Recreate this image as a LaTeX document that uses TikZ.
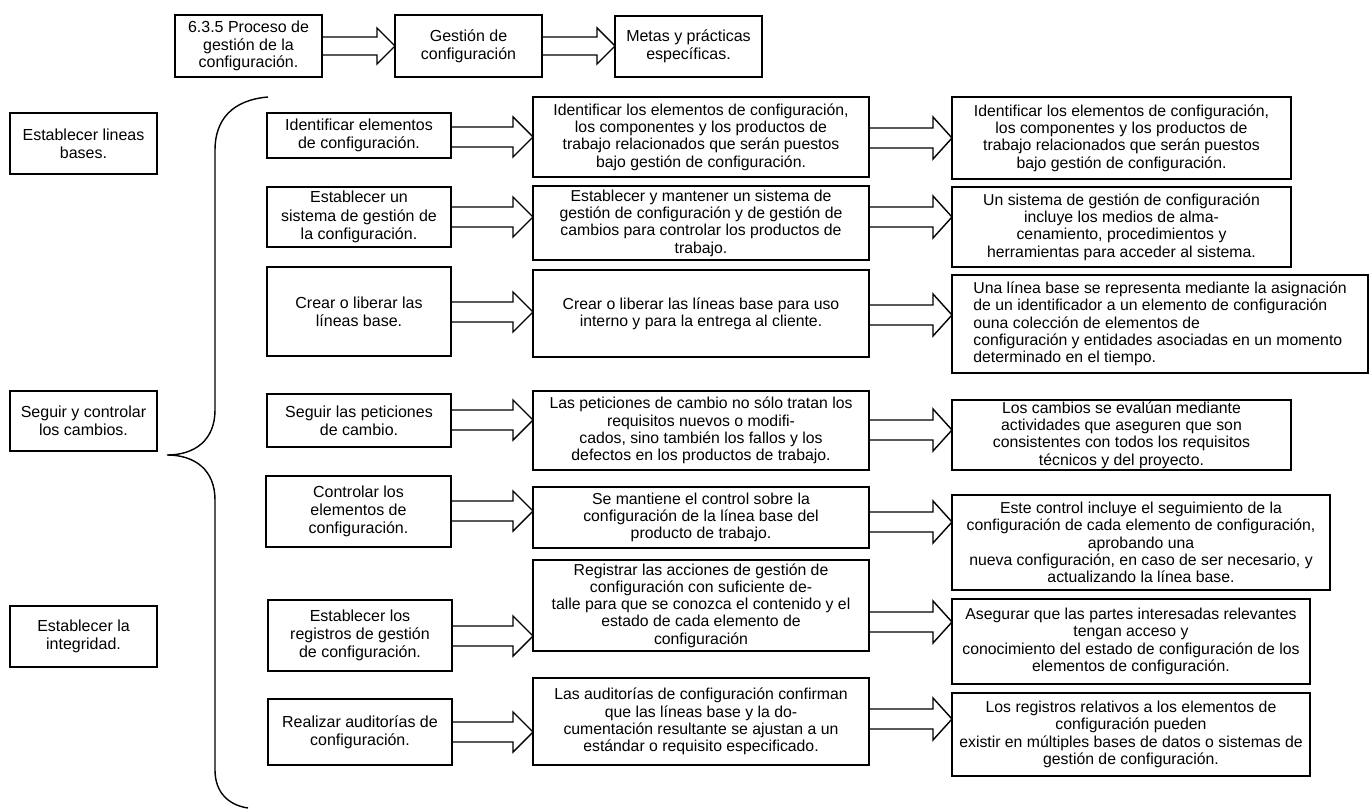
\documentclass[tikz,border=0pt]{standalone}
\usepackage{fontspec}
\setmainfont{Liberation Sans}
\usetikzlibrary{calc}
\newcommand\bx[7]{\node[#6, minimum width={(#4-#2)*1pt}, minimum height={(#5-#3)*1pt}] (#1) at ({(#2+#4)/2},{(#3+#5)/2}) {#7};}
% from, to, y, shaft half, head half, head length
\newcommand\barrow[6]{\draw[arrowline] let \p1=(#1.east), \p2=(#2.west), \p3=(0,#3) in
  (\x1,{\y3+#4pt}) -- ({\x2-#6pt},{\y3+#4pt}) -- ({\x2-#6pt},{\y3+#5pt}) -- (\x2,\y3)
  -- ({\x2-#6pt},{\y3-#5pt}) -- ({\x2-#6pt},{\y3-#4pt}) -- (\x1,{\y3-#4pt});}
\begin{document}
\begin{tikzpicture}[x=1pt,y=-1pt,
  box/.style={draw, line width=1.4pt, inner sep=1pt, outer sep=0pt, align=center, font=\fontsize{16}{18.3}\selectfont},
  tbox/.style={box, font=\fontsize{16}{17.7}\selectfont},
  nbox/.style={box, font=\fontsize{15.8}{17.3}\selectfont},
  arrowline/.style={draw, line width=1.4pt, line join=miter}]
\fill[white] (0,0) rectangle (1372,810);
\useasboundingbox (0,0) rectangle (1372,810);
% top row
\bx{t1}{175}{15}{322}{77}{tbox}{6.3.5 Proceso de\\gestión de la\\configuración.}
\bx{t2}{395}{15}{542}{77}{tbox}{Gestión de\\configuración}
\bx{t3}{615}{16}{762}{77}{tbox}{Metas y prácticas\\específicas.}
\barrow{t1}{t2}{46}{9}{18}{18}
\barrow{t2}{t3}{46}{9}{18}{18}
% left column
\bx{l1}{10}{113}{157}{174}{box}{Establecer lineas\\bases.}
\bx{l2}{10}{391}{157}{451}{box}{Seguir y controlar\\los cambios.}
\bx{l3}{10}{606}{157}{667}{box}{Establecer la\\integridad.}
% brace
\draw[line width=1.4pt] (268,97) .. controls (232,100) and (215,120) .. (215,150) -- (215,410)
  .. controls (215,440) and (195,455) .. (167,455)
  .. controls (195,455) and (215,470) .. (215,500) -- (215,770)
  .. controls (215,792) and (228,805) .. (248,808);
% middle-left column
\bx{m1}{267}{113}{451}{158}{box}{Identificar elementos\\de configuración.}
\bx{m2}{267}{187}{451}{247}{box}{Establecer un\\sistema de gestión de\\la configuración.}
\bx{m3}{267}{267}{451}{356}{box}{Crear o liberar las\\líneas base.}
\bx{m4}{267}{394}{451}{447}{box}{Seguir las peticiones\\de cambio.}
\bx{m5}{266}{476}{451}{547}{box}{Controlar los\\elementos de\\configuración.}
\bx{m6}{268}{600}{452}{671}{box}{Establecer los\\registros de gestión\\de configuración.}
\bx{m7}{268}{699}{452}{765}{box}{Realizar auditorías de\\configuración.}
% middle column
\bx{c1}{533}{97}{869}{177}{nbox}{Identificar los elementos de configuración,\\los componentes y los productos de\\trabajo relacionados que serán puestos\\bajo gestión de configuración.}
\bx{c2}{533}{186}{869}{260}{nbox}{Establecer y mantener un sistema de\\gestión de configuración y de gestión de\\cambios para controlar los productos de\\trabajo.}
\bx{c3}{533}{270}{869}{357}{nbox}{Crear o liberar las líneas base para uso\\interno y para la entrega al cliente.}
\bx{c4}{533}{391}{869}{470}{nbox}{Las peticiones de cambio no sólo tratan los\\requisitos nuevos o modifi-\\cados, sino también los fallos y los\\defectos en los productos de trabajo.}
\bx{c5}{533}{487}{869}{548}{nbox}{Se mantiene el control sobre la\\configuración de la línea base del\\producto de trabajo.}
\bx{c6}{533}{560}{869}{651}{nbox}{Registrar las acciones de gestión de\\configuración con suficiente de-\\talle para que se conozca el contenido y el\\estado de cada elemento de\\configuración}
\bx{c7}{533}{678}{869}{765}{nbox}{Las auditorías de configuración confirman\\que las líneas base y la do-\\cumentación resultante se ajustan a un\\estándar o requisito especificado.}
% right column
\bx{r1}{952}{97}{1291}{179}{nbox}{Identificar los elementos de configuración,\\los componentes y los productos de\\trabajo relacionados que serán puestos\\bajo gestión de configuración.}
\bx{r2}{952}{187}{1291}{267}{nbox}{Un sistema de gestión de configuración\\incluye los medios de alma-\\cenamiento, procedimientos y\\herramientas para acceder al sistema.}
\bx{r3}{952}{275}{1368}{373}{nbox, align=left}{Una línea base se representa mediante la asignación\\de un identificador a un elemento de configuración\\ouna colección de elementos de\\configuración y entidades asociadas en un momento\\determinado en el tiempo.}
\bx{r4}{952}{400}{1291}{470}{nbox}{Los cambios se evalúan mediante\\actividades que aseguren que son\\consistentes con todos los requisitos\\técnicos y del proyecto.}
\bx{r5}{952}{495}{1330}{590}{nbox}{Este control incluye el seguimiento de la\\configuración de cada elemento de configuración,\\aprobando una\\nueva configuración, en caso de ser necesario, y\\actualizando la línea base.}
\bx{r6}{952}{599}{1310}{684}{nbox}{Asegurar que las partes interesadas relevantes\\tengan acceso y\\conocimiento del estado de configuración de los\\elementos de configuración.}
\bx{r7}{952}{693}{1310}{776}{nbox}{Los registros relativos a los elementos de\\configuración pueden\\existir en múltiples bases de datos o sistemas de\\gestión de configuración.}
% arrows left -> middle
\barrow{m1}{c1}{137}{10}{20}{20}
\barrow{m2}{c2}{217}{10}{20}{20}
\barrow{m3}{c3}{312}{10}{20}{20}
\barrow{m4}{c4}{420}{10}{20}{20}
\barrow{m5}{c5}{511}{10}{20}{20}
\barrow{m6}{c6}{636}{10}{20}{20}
\barrow{m7}{c7}{732}{10}{20}{20}
% arrows middle -> right
\barrow{c1}{r1}{138}{10}{21}{19}
\barrow{c2}{r2}{217}{10}{21}{19}
\barrow{c3}{r3}{315}{10}{21}{19}
\barrow{c4}{r4}{430}{10}{21}{19}
\barrow{c5}{r5}{522}{10}{21}{19}
\barrow{c6}{r6}{622}{10}{21}{19}
\barrow{c7}{r7}{719}{10}{21}{19}
\end{tikzpicture}
\end{document}
